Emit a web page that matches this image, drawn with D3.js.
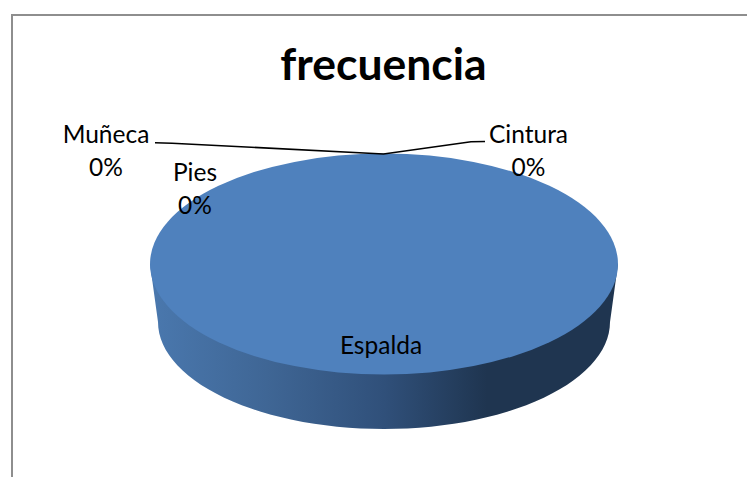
<!DOCTYPE html>
<html>
<head>
  <meta charset="utf-8">
  <title>frecuencia</title>
  <script src="https://d3js.org/d3.v7.min.js"></script>
  <style>
    html, body { margin: 0; padding: 0; background: #fff; overflow: hidden; }
    text { font-family: Lato, "Open Sans", sans-serif; fill: #000; }
  </style>
</head>
<body>
  <script>
    var categories = ['Espalda', 'Cintura', 'Pies', 'Muñeca'];
    var values = [100, 0, 0, 0];
    var percentLabels = ['', '0%', '0%', '0%'];

    var width = 747;
    var height = 477;
    var cx = 384, cy = 264;
    var rx = 234, ry = 110.5;
    // la base se ve algo mas estrecha por la perspectiva
    var baseRx = 226, baseRy = 107, baseCy = 322;

    var svg = d3.select('body')
      .append('svg')
      .attr('width', width)
      .attr('height', height)
      .style('display', 'block');

    // marco del grafico, abierto por la derecha y por abajo
    svg.append('path')
      .attr('d', 'M12,' + height + 'V15H' + width)
      .attr('fill', 'none')
      .attr('stroke', '#8e8e8e')
      .attr('stroke-width', 2);

    svg.append('text')
      .attr('x', 383.5)
      .attr('y', 80)
      .attr('text-anchor', 'middle')
      .attr('font-size', 44.5)
      .attr('font-weight', 700)
      .text('frecuencia');

    // degradado de la pared del cilindro
    var grad = svg.append('defs').append('linearGradient')
      .attr('id', 'wall')
      .attr('gradientUnits', 'userSpaceOnUse')
      .attr('x1', cx - rx).attr('x2', cx + rx)
      .attr('y1', 0).attr('y2', 0);
    grad.append('stop').attr('offset', '0').attr('stop-color', '#4a78ae');
    grad.append('stop').attr('offset', '0.25').attr('stop-color', '#3f6695');
    grad.append('stop').attr('offset', '0.5').attr('stop-color', '#30507a');
    grad.append('stop').attr('offset', '0.72').attr('stop-color', '#1f3550');
    grad.append('stop').attr('offset', '1').attr('stop-color', '#1f3550');

    // pared: lado izquierdo, mitad inferior de la base, lado derecho
    var angles = d3.range(0, 181, 3).map(function(d) { return d * Math.PI / 180; });
    var wallPts = [[cx + rx, cy]]
      .concat(angles.map(function(t) {
        return [cx + baseRx * Math.cos(t), baseCy + baseRy * Math.sin(t)];
      }))
      .concat([[cx - rx, cy]]);
    svg.append('path')
      .attr('d', d3.line()(wallPts) + 'Z')
      .attr('fill', 'url(#wall)');

    // tapa: el pie de d3 en un circulo aplastado
    var pie = d3.pie().sort(null);
    var arc = d3.arc().innerRadius(0).outerRadius(rx);
    svg.append('g')
      .attr('transform', 'translate(' + cx + ',' + cy + ') scale(1,' + (ry / rx) + ')')
      .selectAll('path')
      .data(pie(values))
      .enter()
      .append('path')
      .attr('fill', '#4f81bd')
      .attr('d', arc);

    // lineas guia de Muñeca y Cintura
    var leaderLine = d3.line();
    svg.append('path')
      .attr('d', leaderLine([[155, 142.7], [172, 143.2], [383.5, 154], [471, 141.8], [485, 141.5]]))
      .attr('fill', 'none')
      .attr('stroke', '#000')
      .attr('stroke-width', 1.6);

    // etiquetas: posicion de cada categoria, en el orden de categories
    var labelX = [381, 528.5, 195, 106];
    var labelY = [354, 142.5, 181, 143];
    var labels = svg.append('g')
      .attr('font-size', 24.5)
      .attr('text-anchor', 'middle');
    categories.forEach(function(c, i) {
      labels.append('text').attr('x', labelX[i]).attr('y', labelY[i]).text(c);
      if (percentLabels[i]) {
        labels.append('text').attr('x', labelX[i]).attr('y', labelY[i] + 33).text(percentLabels[i]);
      }
    });
  </script>
</body>
</html>
